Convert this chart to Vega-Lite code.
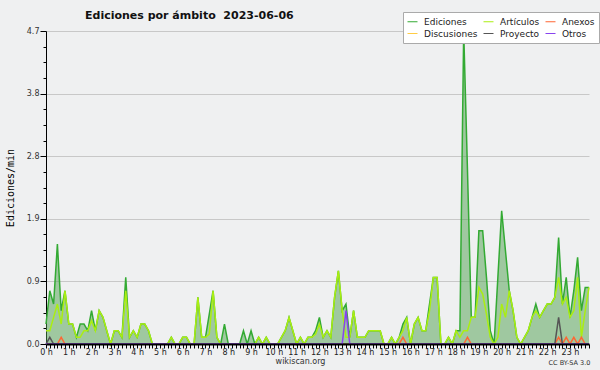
{
"$schema":"https://vega.github.io/schema/vega-lite/v6.json",
"width":543,"height":313,
"autosize":{"type":"none"},
"padding":{"left":46,"top":31,"right":11,"bottom":26},
"background":"#eff0f1",
"config":{"view":{"stroke":null},"axis":{"zindex":1},"axisX":{"labelOverlap":false,"zindex":1},"axisY":{"labelOverlap":false}},
"title":{"text":"Ediciones por ámbito\u00a0 2023-06-06","anchor":"start","frame":"group","dx":39,"dy":18,"offset":0,"baseline":"alphabetic","font":"DejaVu Sans","fontSize":11,"fontWeight":"bold","color":"#111"},
"data":{"values":[
{"m":0,"Ediciones":0.3,"Artículos":0.2,"Anexos":0,"Discusiones":0,"Proyecto":0,"Otros":0},
{"m":10,"Ediciones":0.8,"Artículos":0.2,"Anexos":0,"Discusiones":0,"Proyecto":0.1,"Otros":0},
{"m":20,"Ediciones":0.6,"Artículos":0.4,"Anexos":0,"Discusiones":0,"Proyecto":0,"Otros":0},
{"m":30,"Ediciones":1.5,"Artículos":0.6,"Anexos":0,"Discusiones":0,"Proyecto":0,"Otros":0},
{"m":40,"Ediciones":0.5,"Artículos":0.3,"Anexos":0.1,"Discusiones":0,"Proyecto":0,"Otros":0},
{"m":50,"Ediciones":0.8,"Artículos":0.8,"Anexos":0,"Discusiones":0,"Proyecto":0,"Otros":0},
{"m":60,"Ediciones":0.3,"Artículos":0.3,"Anexos":0,"Discusiones":0,"Proyecto":0,"Otros":0},
{"m":70,"Ediciones":0.3,"Artículos":0.3,"Anexos":0,"Discusiones":0,"Proyecto":0,"Otros":0},
{"m":80,"Ediciones":0.1,"Artículos":0.1,"Anexos":0,"Discusiones":0,"Proyecto":0,"Otros":0},
{"m":90,"Ediciones":0.3,"Artículos":0.1,"Anexos":0,"Discusiones":0,"Proyecto":0,"Otros":0},
{"m":100,"Ediciones":0.3,"Artículos":0.2,"Anexos":0,"Discusiones":0,"Proyecto":0,"Otros":0},
{"m":110,"Ediciones":0.2,"Artículos":0.2,"Anexos":0,"Discusiones":0,"Proyecto":0,"Otros":0},
{"m":120,"Ediciones":0.5,"Artículos":0.35,"Anexos":0,"Discusiones":0,"Proyecto":0,"Otros":0},
{"m":130,"Ediciones":0.2,"Artículos":0.2,"Anexos":0,"Discusiones":0,"Proyecto":0,"Otros":0},
{"m":140,"Ediciones":0.5,"Artículos":0.5,"Anexos":0,"Discusiones":0,"Proyecto":0,"Otros":0},
{"m":150,"Ediciones":0.4,"Artículos":0.4,"Anexos":0,"Discusiones":0,"Proyecto":0,"Otros":0},
{"m":160,"Ediciones":0.2,"Artículos":0.2,"Anexos":0,"Discusiones":0,"Proyecto":0,"Otros":0},
{"m":170,"Ediciones":0,"Artículos":0,"Anexos":0,"Discusiones":0,"Proyecto":0,"Otros":0},
{"m":180,"Ediciones":0.2,"Artículos":0.2,"Anexos":0,"Discusiones":0,"Proyecto":0,"Otros":0},
{"m":190,"Ediciones":0.2,"Artículos":0.2,"Anexos":0,"Discusiones":0,"Proyecto":0,"Otros":0},
{"m":200,"Ediciones":0.1,"Artículos":0.1,"Anexos":0,"Discusiones":0,"Proyecto":0,"Otros":0},
{"m":210,"Ediciones":1.0,"Artículos":0.8,"Anexos":0,"Discusiones":0,"Proyecto":0,"Otros":0},
{"m":220,"Ediciones":0.1,"Artículos":0.1,"Anexos":0,"Discusiones":0,"Proyecto":0,"Otros":0},
{"m":230,"Ediciones":0.2,"Artículos":0.2,"Anexos":0,"Discusiones":0,"Proyecto":0,"Otros":0},
{"m":240,"Ediciones":0.1,"Artículos":0.1,"Anexos":0,"Discusiones":0,"Proyecto":0,"Otros":0},
{"m":250,"Ediciones":0.3,"Artículos":0.3,"Anexos":0,"Discusiones":0,"Proyecto":0,"Otros":0},
{"m":260,"Ediciones":0.3,"Artículos":0.3,"Anexos":0,"Discusiones":0,"Proyecto":0,"Otros":0},
{"m":270,"Ediciones":0.2,"Artículos":0.2,"Anexos":0,"Discusiones":0,"Proyecto":0,"Otros":0},
{"m":280,"Ediciones":0,"Artículos":0,"Anexos":0,"Discusiones":0,"Proyecto":0,"Otros":0},
{"m":290,"Ediciones":0,"Artículos":0,"Anexos":0,"Discusiones":0,"Proyecto":0,"Otros":0},
{"m":300,"Ediciones":0,"Artículos":0,"Anexos":0,"Discusiones":0,"Proyecto":0,"Otros":0},
{"m":310,"Ediciones":0,"Artículos":0,"Anexos":0,"Discusiones":0,"Proyecto":0,"Otros":0},
{"m":320,"Ediciones":0,"Artículos":0,"Anexos":0,"Discusiones":0,"Proyecto":0,"Otros":0},
{"m":330,"Ediciones":0.1,"Artículos":0.1,"Anexos":0,"Discusiones":0,"Proyecto":0,"Otros":0},
{"m":340,"Ediciones":0,"Artículos":0,"Anexos":0,"Discusiones":0,"Proyecto":0,"Otros":0},
{"m":350,"Ediciones":0,"Artículos":0,"Anexos":0,"Discusiones":0,"Proyecto":0,"Otros":0},
{"m":360,"Ediciones":0.1,"Artículos":0.1,"Anexos":0,"Discusiones":0,"Proyecto":0,"Otros":0},
{"m":370,"Ediciones":0.1,"Artículos":0.1,"Anexos":0,"Discusiones":0,"Proyecto":0,"Otros":0},
{"m":380,"Ediciones":0,"Artículos":0,"Anexos":0,"Discusiones":0,"Proyecto":0,"Otros":0},
{"m":390,"Ediciones":0,"Artículos":0,"Anexos":0,"Discusiones":0,"Proyecto":0,"Otros":0},
{"m":400,"Ediciones":0.7,"Artículos":0.7,"Anexos":0,"Discusiones":0,"Proyecto":0,"Otros":0},
{"m":410,"Ediciones":0.1,"Artículos":0.1,"Anexos":0,"Discusiones":0,"Proyecto":0,"Otros":0},
{"m":420,"Ediciones":0.1,"Artículos":0.1,"Anexos":0,"Discusiones":0,"Proyecto":0,"Otros":0},
{"m":430,"Ediciones":0.45,"Artículos":0.15,"Anexos":0,"Discusiones":0,"Proyecto":0,"Otros":0},
{"m":440,"Ediciones":0.8,"Artículos":0.8,"Anexos":0,"Discusiones":0,"Proyecto":0,"Otros":0},
{"m":450,"Ediciones":0.1,"Artículos":0.1,"Anexos":0,"Discusiones":0,"Proyecto":0,"Otros":0},
{"m":460,"Ediciones":0,"Artículos":0,"Anexos":0,"Discusiones":0,"Proyecto":0,"Otros":0},
{"m":470,"Ediciones":0.3,"Artículos":0,"Anexos":0,"Discusiones":0,"Proyecto":0,"Otros":0},
{"m":480,"Ediciones":0,"Artículos":0,"Anexos":0,"Discusiones":0,"Proyecto":0,"Otros":0},
{"m":490,"Ediciones":0,"Artículos":0,"Anexos":0,"Discusiones":0,"Proyecto":0,"Otros":0},
{"m":500,"Ediciones":0,"Artículos":0,"Anexos":0,"Discusiones":0,"Proyecto":0,"Otros":0},
{"m":510,"Ediciones":0,"Artículos":0,"Anexos":0,"Discusiones":0,"Proyecto":0,"Otros":0},
{"m":520,"Ediciones":0.2,"Artículos":0,"Anexos":0,"Discusiones":0,"Proyecto":0,"Otros":0},
{"m":530,"Ediciones":0,"Artículos":0,"Anexos":0,"Discusiones":0,"Proyecto":0,"Otros":0},
{"m":540,"Ediciones":0.2,"Artículos":0,"Anexos":0,"Discusiones":0,"Proyecto":0,"Otros":0},
{"m":550,"Ediciones":0,"Artículos":0,"Anexos":0,"Discusiones":0,"Proyecto":0,"Otros":0},
{"m":560,"Ediciones":0.1,"Artículos":0.1,"Anexos":0,"Discusiones":0,"Proyecto":0,"Otros":0},
{"m":570,"Ediciones":0,"Artículos":0,"Anexos":0,"Discusiones":0,"Proyecto":0,"Otros":0},
{"m":580,"Ediciones":0.1,"Artículos":0.1,"Anexos":0,"Discusiones":0,"Proyecto":0,"Otros":0},
{"m":590,"Ediciones":0,"Artículos":0,"Anexos":0,"Discusiones":0,"Proyecto":0,"Otros":0},
{"m":600,"Ediciones":0,"Artículos":0,"Anexos":0,"Discusiones":0,"Proyecto":0,"Otros":0},
{"m":610,"Ediciones":0,"Artículos":0,"Anexos":0,"Discusiones":0,"Proyecto":0,"Otros":0},
{"m":620,"Ediciones":0.1,"Artículos":0.1,"Anexos":0,"Discusiones":0,"Proyecto":0,"Otros":0},
{"m":630,"Ediciones":0.2,"Artículos":0.2,"Anexos":0,"Discusiones":0,"Proyecto":0,"Otros":0},
{"m":640,"Ediciones":0.4,"Artículos":0.4,"Anexos":0,"Discusiones":0,"Proyecto":0,"Otros":0},
{"m":650,"Ediciones":0.2,"Artículos":0.2,"Anexos":0,"Discusiones":0,"Proyecto":0,"Otros":0},
{"m":660,"Ediciones":0,"Artículos":0,"Anexos":0,"Discusiones":0,"Proyecto":0,"Otros":0},
{"m":670,"Ediciones":0.1,"Artículos":0.1,"Anexos":0,"Discusiones":0,"Proyecto":0,"Otros":0},
{"m":680,"Ediciones":0,"Artículos":0,"Anexos":0,"Discusiones":0,"Proyecto":0,"Otros":0},
{"m":690,"Ediciones":0.1,"Artículos":0.1,"Anexos":0,"Discusiones":0,"Proyecto":0,"Otros":0},
{"m":700,"Ediciones":0.1,"Artículos":0.1,"Anexos":0,"Discusiones":0,"Proyecto":0,"Otros":0},
{"m":710,"Ediciones":0.2,"Artículos":0.15,"Anexos":0,"Discusiones":0,"Proyecto":0,"Otros":0},
{"m":720,"Ediciones":0.4,"Artículos":0.3,"Anexos":0,"Discusiones":0,"Proyecto":0,"Otros":0},
{"m":730,"Ediciones":0.1,"Artículos":0.1,"Anexos":0,"Discusiones":0,"Proyecto":0,"Otros":0},
{"m":740,"Ediciones":0.2,"Artículos":0.2,"Anexos":0,"Discusiones":0,"Proyecto":0,"Otros":0},
{"m":750,"Ediciones":0.1,"Artículos":0.1,"Anexos":0,"Discusiones":0,"Proyecto":0,"Otros":0},
{"m":760,"Ediciones":0.7,"Artículos":0.7,"Anexos":0,"Discusiones":0,"Proyecto":0,"Otros":0},
{"m":770,"Ediciones":1.1,"Artículos":1.1,"Anexos":0,"Discusiones":0,"Proyecto":0,"Otros":0},
{"m":780,"Ediciones":0.5,"Artículos":0.5,"Anexos":0,"Discusiones":0,"Proyecto":0,"Otros":0},
{"m":790,"Ediciones":0.6,"Artículos":0.1,"Anexos":0,"Discusiones":0,"Proyecto":0,"Otros":0.5},
{"m":800,"Ediciones":0.1,"Artículos":0.1,"Anexos":0,"Discusiones":0,"Proyecto":0,"Otros":0},
{"m":810,"Ediciones":0.5,"Artículos":0.5,"Anexos":0,"Discusiones":0,"Proyecto":0,"Otros":0},
{"m":820,"Ediciones":0.1,"Artículos":0.1,"Anexos":0,"Discusiones":0,"Proyecto":0,"Otros":0},
{"m":830,"Ediciones":0.1,"Artículos":0.1,"Anexos":0,"Discusiones":0,"Proyecto":0,"Otros":0},
{"m":840,"Ediciones":0.1,"Artículos":0.1,"Anexos":0,"Discusiones":0,"Proyecto":0,"Otros":0},
{"m":850,"Ediciones":0.2,"Artículos":0.2,"Anexos":0,"Discusiones":0,"Proyecto":0,"Otros":0},
{"m":860,"Ediciones":0.2,"Artículos":0.2,"Anexos":0,"Discusiones":0,"Proyecto":0,"Otros":0},
{"m":870,"Ediciones":0.2,"Artículos":0.2,"Anexos":0,"Discusiones":0,"Proyecto":0,"Otros":0},
{"m":880,"Ediciones":0.2,"Artículos":0.2,"Anexos":0,"Discusiones":0,"Proyecto":0,"Otros":0},
{"m":890,"Ediciones":0,"Artículos":0,"Anexos":0,"Discusiones":0,"Proyecto":0,"Otros":0},
{"m":900,"Ediciones":0,"Artículos":0,"Anexos":0,"Discusiones":0,"Proyecto":0,"Otros":0},
{"m":910,"Ediciones":0.1,"Artículos":0.1,"Anexos":0,"Discusiones":0,"Proyecto":0,"Otros":0},
{"m":920,"Ediciones":0,"Artículos":0,"Anexos":0,"Discusiones":0,"Proyecto":0,"Otros":0},
{"m":930,"Ediciones":0.1,"Artículos":0.1,"Anexos":0,"Discusiones":0,"Proyecto":0,"Otros":0},
{"m":940,"Ediciones":0.3,"Artículos":0.2,"Anexos":0.1,"Discusiones":0,"Proyecto":0,"Otros":0},
{"m":950,"Ediciones":0.4,"Artículos":0.4,"Anexos":0,"Discusiones":0,"Proyecto":0,"Otros":0},
{"m":960,"Ediciones":0,"Artículos":0,"Anexos":0,"Discusiones":0,"Proyecto":0,"Otros":0},
{"m":970,"Ediciones":0.3,"Artículos":0.3,"Anexos":0,"Discusiones":0,"Proyecto":0,"Otros":0},
{"m":980,"Ediciones":0.4,"Artículos":0.4,"Anexos":0,"Discusiones":0,"Proyecto":0,"Otros":0},
{"m":990,"Ediciones":0.2,"Artículos":0.2,"Anexos":0,"Discusiones":0,"Proyecto":0,"Otros":0},
{"m":1000,"Ediciones":0.2,"Artículos":0.2,"Anexos":0,"Discusiones":0,"Proyecto":0,"Otros":0},
{"m":1010,"Ediciones":0.6,"Artículos":0.5,"Anexos":0,"Discusiones":0,"Proyecto":0,"Otros":0},
{"m":1020,"Ediciones":1.0,"Artículos":1.0,"Anexos":0,"Discusiones":0,"Proyecto":0,"Otros":0},
{"m":1030,"Ediciones":1.0,"Artículos":1.0,"Anexos":0,"Discusiones":0,"Proyecto":0,"Otros":0},
{"m":1040,"Ediciones":0,"Artículos":0,"Anexos":0,"Discusiones":0,"Proyecto":0,"Otros":0},
{"m":1050,"Ediciones":0,"Artículos":0,"Anexos":0,"Discusiones":0,"Proyecto":0,"Otros":0},
{"m":1060,"Ediciones":0.1,"Artículos":0.1,"Anexos":0,"Discusiones":0,"Proyecto":0,"Otros":0},
{"m":1070,"Ediciones":0,"Artículos":0,"Anexos":0,"Discusiones":0,"Proyecto":0,"Otros":0},
{"m":1080,"Ediciones":0.2,"Artículos":0.2,"Anexos":0,"Discusiones":0,"Proyecto":0,"Otros":0},
{"m":1090,"Ediciones":0.2,"Artículos":0.1,"Anexos":0,"Discusiones":0,"Proyecto":0,"Otros":0},
{"m":1100,"Ediciones":4.7,"Artículos":0.2,"Anexos":0,"Discusiones":0,"Proyecto":0,"Otros":0},
{"m":1110,"Ediciones":2.6,"Artículos":0.2,"Anexos":0.1,"Discusiones":0,"Proyecto":0,"Otros":0},
{"m":1120,"Ediciones":0.4,"Artículos":0.4,"Anexos":0,"Discusiones":0,"Proyecto":0,"Otros":0},
{"m":1130,"Ediciones":0.4,"Artículos":0.4,"Anexos":0,"Discusiones":0,"Proyecto":0,"Otros":0},
{"m":1140,"Ediciones":1.7,"Artículos":0.85,"Anexos":0,"Discusiones":0,"Proyecto":0,"Otros":0},
{"m":1150,"Ediciones":1.7,"Artículos":0.75,"Anexos":0,"Discusiones":0,"Proyecto":0,"Otros":0},
{"m":1160,"Ediciones":1.0,"Artículos":0.45,"Anexos":0,"Discusiones":0,"Proyecto":0,"Otros":0},
{"m":1170,"Ediciones":0.2,"Artículos":0.1,"Anexos":0,"Discusiones":0,"Proyecto":0,"Otros":0},
{"m":1180,"Ediciones":0,"Artículos":0,"Anexos":0,"Discusiones":0,"Proyecto":0,"Otros":0},
{"m":1190,"Ediciones":1.0,"Artículos":0.1,"Anexos":0,"Discusiones":0,"Proyecto":0,"Otros":0},
{"m":1200,"Ediciones":2.0,"Artículos":0.6,"Anexos":0,"Discusiones":0,"Proyecto":0,"Otros":0},
{"m":1210,"Ediciones":1.4,"Artículos":0.4,"Anexos":0,"Discusiones":0,"Proyecto":0,"Otros":0},
{"m":1220,"Ediciones":0.8,"Artículos":0.8,"Anexos":0,"Discusiones":0,"Proyecto":0,"Otros":0},
{"m":1230,"Ediciones":0.5,"Artículos":0.5,"Anexos":0,"Discusiones":0,"Proyecto":0,"Otros":0},
{"m":1240,"Ediciones":0.1,"Artículos":0.1,"Anexos":0,"Discusiones":0,"Proyecto":0,"Otros":0},
{"m":1250,"Ediciones":0,"Artículos":0,"Anexos":0,"Discusiones":0,"Proyecto":0,"Otros":0},
{"m":1260,"Ediciones":0.1,"Artículos":0.1,"Anexos":0,"Discusiones":0,"Proyecto":0,"Otros":0},
{"m":1270,"Ediciones":0.2,"Artículos":0.2,"Anexos":0,"Discusiones":0,"Proyecto":0,"Otros":0},
{"m":1280,"Ediciones":0.4,"Artículos":0.4,"Anexos":0,"Discusiones":0,"Proyecto":0,"Otros":0},
{"m":1290,"Ediciones":0.6,"Artículos":0.5,"Anexos":0,"Discusiones":0,"Proyecto":0,"Otros":0},
{"m":1300,"Ediciones":0.4,"Artículos":0.4,"Anexos":0,"Discusiones":0,"Proyecto":0,"Otros":0},
{"m":1310,"Ediciones":0.5,"Artículos":0.5,"Anexos":0,"Discusiones":0,"Proyecto":0,"Otros":0},
{"m":1320,"Ediciones":0.6,"Artículos":0.6,"Anexos":0,"Discusiones":0,"Proyecto":0,"Otros":0},
{"m":1330,"Ediciones":0.6,"Artículos":0.6,"Anexos":0,"Discusiones":0,"Proyecto":0,"Otros":0},
{"m":1340,"Ediciones":0.7,"Artículos":0.7,"Anexos":0,"Discusiones":0,"Proyecto":0,"Otros":0},
{"m":1350,"Ediciones":1.6,"Artículos":1.0,"Anexos":0.1,"Discusiones":0,"Proyecto":0.4,"Otros":0},
{"m":1360,"Ediciones":0.6,"Artículos":0.6,"Anexos":0,"Discusiones":0,"Proyecto":0,"Otros":0},
{"m":1370,"Ediciones":1.0,"Artículos":0.7,"Anexos":0.1,"Discusiones":0,"Proyecto":0,"Otros":0},
{"m":1380,"Ediciones":0.4,"Artículos":0.4,"Anexos":0,"Discusiones":0,"Proyecto":0,"Otros":0},
{"m":1390,"Ediciones":0.8,"Artículos":0.5,"Anexos":0.1,"Discusiones":0,"Proyecto":0,"Otros":0},
{"m":1400,"Ediciones":1.3,"Artículos":1.0,"Anexos":0,"Discusiones":0,"Proyecto":0,"Otros":0},
{"m":1410,"Ediciones":0.5,"Artículos":0.1,"Anexos":0.1,"Discusiones":0,"Proyecto":0,"Otros":0},
{"m":1420,"Ediciones":0.85,"Artículos":0.5,"Anexos":0,"Discusiones":0,"Proyecto":0,"Otros":0},
{"m":1430,"Ediciones":0.85,"Artículos":0.85,"Anexos":0,"Discusiones":0,"Proyecto":0,"Otros":0}
]},
"layer":[
{"mark":{"type":"area","color":"#50a050","opacity":0.5},
 "encoding":{
  "x":{"field":"m","type":"quantitative","title":"wikiscan.org","scale":{"domain":[0,1430],"nice":false,"zero":false},
   "axis":{"values":[0,10,20,30,40,50,60,70,80,90,100,110,120,130,140,150,160,170,180,190,200,210,220,230,240,250,260,270,280,290,300,310,320,330,340,350,360,370,380,390,400,410,420,430,440,450,460,470,480,490,500,510,520,530,540,550,560,570,580,590,600,610,620,630,640,650,660,670,680,690,700,710,720,730,740,750,760,770,780,790,800,810,820,830,840,850,860,870,880,890,900,910,920,930,940,950,960,970,980,990,1000,1010,1020,1030,1040,1050,1060,1070,1080,1090,1100,1110,1120,1130,1140,1150,1160,1170,1180,1190,1200,1210,1220,1230,1240,1250,1260,1270,1280,1290,1300,1310,1320,1330,1340,1350,1360,1370,1380,1390,1400,1410,1420,1430],
    "labelExpr":"datum.value % 60 == 0 ? (datum.value/60) + ' h' : ''",
    "labelOverlap":false,"labelFlush":false,"labelBound":false,"zindex":1,
    "labelFont":"DejaVu Sans","labelFontSize":8,"labelColor":"#222","labelPadding":0,
    "tickSize":4,"tickColor":"#000","domainColor":"#000","domainWidth":2,"grid":false,
    "titleFont":"DejaVu Sans","titleFontSize":8,"titleFontWeight":"normal","titleColor":"#333",
    "titleX":254,"titleY":17,"titleBaseline":"middle","titleAlign":"center"}},
  "y":{"field":"Ediciones","type":"quantitative","title":"Ediciones/min","scale":{"domain":[0,4.7],"nice":false},
   "axis":{"values":[0,0.235,0.47,0.705,0.94,1.175,1.41,1.645,1.88,2.115,2.35,2.585,2.82,3.055,3.29,3.525,3.76,3.995,4.23,4.465,4.7],
    "labelExpr":"abs(datum.value/0.94 - round(datum.value/0.94)) < 0.01 ? format(datum.value, '.1f') : ''",
    "labelOverlap":false,"labelFont":"DejaVu Sans","labelFontSize":8,"labelColor":"#333","labelPadding":1,
    "tickSize":{"condition":{"test":"abs(datum.value/0.94 - round(datum.value/0.94)) < 0.01","value":6},"value":3},
    "tickColor":"#000","domainColor":"#000",
    "grid":true,"gridColor":"#c8c8c8",
    "gridOpacity":{"condition":{"test":"abs(datum.value/0.94 - round(datum.value/0.94)) < 0.01","value":1},"value":0},
    "titleFont":"DejaVu Sans Mono","titleFontSize":10,"titleFontWeight":"normal","titleColor":"#000",
    "titleX":-36,"titleY":156.5,"titleAngle":-90,"titleAlign":"center","titleBaseline":"middle"}}
 }},
{"transform":[{"fold":["Ediciones","Artículos","Anexos","Discusiones","Proyecto","Otros"],"as":["ambito","valor"]}],
 "mark":{"type":"line","strokeWidth":1.5},
 "encoding":{
  "x":{"field":"m","type":"quantitative","title":"wikiscan.org",
   "axis":{"values":[0,10,20,30,40,50,60,70,80,90,100,110,120,130,140,150,160,170,180,190,200,210,220,230,240,250,260,270,280,290,300,310,320,330,340,350,360,370,380,390,400,410,420,430,440,450,460,470,480,490,500,510,520,530,540,550,560,570,580,590,600,610,620,630,640,650,660,670,680,690,700,710,720,730,740,750,760,770,780,790,800,810,820,830,840,850,860,870,880,890,900,910,920,930,940,950,960,970,980,990,1000,1010,1020,1030,1040,1050,1060,1070,1080,1090,1100,1110,1120,1130,1140,1150,1160,1170,1180,1190,1200,1210,1220,1230,1240,1250,1260,1270,1280,1290,1300,1310,1320,1330,1340,1350,1360,1370,1380,1390,1400,1410,1420,1430],
    "labelExpr":"datum.value % 60 == 0 ? (datum.value/60) + ' h' : ''",
    "labelOverlap":false,"labelFlush":false,"labelBound":false,"zindex":1,
    "labelFont":"DejaVu Sans","labelFontSize":8,"labelColor":"#222","labelPadding":0,
    "tickSize":4,"tickColor":"#000","domainColor":"#000","domainWidth":2,"grid":false,
    "titleFont":"DejaVu Sans","titleFontSize":8,"titleFontWeight":"normal","titleColor":"#333",
    "titleX":254,"titleY":17,"titleBaseline":"middle","titleAlign":"center"}},
  "y":{"field":"valor","type":"quantitative","title":"CC BY-SA 3.0",
   "axis":{"orient":"right","domain":false,"ticks":false,"labels":false,"grid":false,
    "titleFont":"DejaVu Sans","titleFontSize":6.5,"titleFontWeight":"normal","titleColor":"#333",
    "titleAngle":0,"titleX":-20,"titleY":331,"titleAlign":"center","titleBaseline":"middle"}},
  "color":{"field":"ambito","type":"nominal",
   "scale":{"domain":["Ediciones","Artículos","Anexos","Discusiones","Proyecto","Otros"],"range":["#33aa33","#aaee11","#ff6633","#ffcc44","#555555","#8844ee"]},
   "legend":{"orient":"none","legendX":357,"legendY":-19,"columns":3,"direction":"horizontal","title":null,
    "fillColor":"#ffffff","strokeColor":"#aaaaaa","padding":4,
    "symbolType":"stroke","symbolSize":100,"symbolStrokeWidth":1,
    "labelFont":"DejaVu Sans","labelFontSize":9,"labelColor":"#222","labelOffset":6,
    "columnPadding":3,"rowPadding":1}}
 }}
],
"resolve":{"axis":{"y":"independent"}}
}
